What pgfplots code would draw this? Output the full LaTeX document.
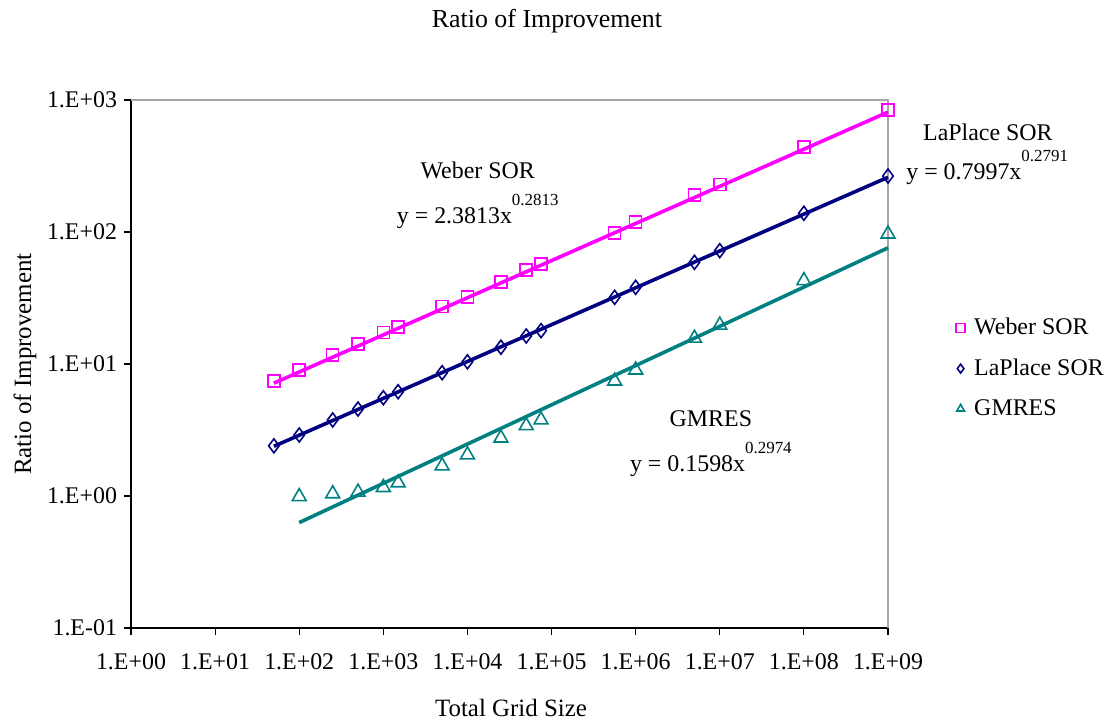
\documentclass[border=0pt]{standalone}
\usepackage{fontspec}
\setmainfont{Liberation Serif}
\usepackage{pgfplots}
\pgfplotsset{compat=1.18}
\definecolor{weber}{RGB}{255,0,255}
\definecolor{laplace}{RGB}{0,0,128}
\definecolor{gmres}{RGB}{0,128,128}

\begin{document}
\begin{tikzpicture}
\useasboundingbox (-65.5bp,-47.5bp) rectangle (490.5bp,314bp);
\begin{axis}[
  scale only axis, width=378.5bp, height=264bp,
  xmode=log, ymode=log,
  xmin=1, xmax=1e9, ymin=0.1, ymax=1000,
  clip=false,
  axis lines=left, axis line style={line width=0.7bp,-},
  xtick={1,10,100,1000,1e4,1e5,1e6,1e7,1e8,1e9},
  xticklabels={1.E+00,1.E+01,1.E+02,1.E+03,1.E+04,1.E+05,1.E+06,1.E+07,1.E+08,1.E+09},
  ytick={0.1,1,10,100,1000},
  yticklabels={1.E-01,1.E+00,1.E+01,1.E+02,1.E+03},
  xminorticks=false, yminorticks=false,
  tick align=outside, major tick length=3.5bp,
  tick style={black, line width=0.6bp},
  tick label style={font=\fontsize{12}{14}\selectfont},
  xticklabel style={yshift=-6bp},
  legend style={draw=none, fill=none, at={(1.080,0.492)}, anchor=west,
    font=\fontsize{12}{14}\selectfont, row sep=6.5bp},
  legend cell align=left,
  legend image code/.code={
    \path[draw=none, fill=none] (0cm,0cm) -- (0.27cm,0cm);
    \draw[#1,mark size=2.2bp] plot[only marks] coordinates {(0.1cm,0cm)};},
]
% plot area border (top and right)
\draw[gray!70, line width=0.8bp] (rel axis cs:0,1) -- (rel axis cs:1,1) -- (rel axis cs:1,0);

% power trendlines
\addplot[weber, line width=1.8bp, forget plot] coordinates {(50,7.16) (1e9,810)};
\addplot[laplace, line width=1.8bp, forget plot] coordinates {(50,2.38) (1e9,259.9)};
\addplot[gmres, line width=1.8bp, forget plot] coordinates {(100,0.629) (1e9,75.9)};

% measured ratios
\addplot[weber, only marks, mark=square, mark size=3bp, mark options={line width=0.8bp}] coordinates {
  (50,7.43) (100,9.01) (250,11.7) (500,14.2) (1000,17.3) (1500,19.0)
  (5000,27.2) (10000,32.2) (25000,41.8) (50000,51.5) (75000,57.2)
  (562500,98.8) (1e6,119.7) (5e6,190.6) (1e7,229.7) (1e8,440) (1e9,840)};
\addlegendentry{Weber SOR}
\addplot[laplace, only marks, mark=diamond, mark size=3.5bp, mark options={line width=0.8bp}] coordinates {
  (50,2.40) (100,2.90) (250,3.77) (500,4.56) (1000,5.55) (1500,6.17)
  (5000,8.59) (10000,10.4) (25000,13.4) (50000,16.3) (75000,17.9)
  (562500,32.0) (1e6,38.1) (5e6,58.9) (1e7,72.2) (1e8,138.6) (1e9,265.6)};
\addlegendentry{LaPlace SOR}
\addplot[gmres, only marks, mark=triangle, mark size=4bp, mark options={line width=0.8bp}] coordinates {
  (100,0.99) (250,1.04) (500,1.07) (1000,1.16) (1500,1.26)
  (5000,1.69) (10000,2.05) (25000,2.75) (50000,3.41) (75000,3.77)
  (562500,7.43) (1e6,9.01) (5e6,15.7) (1e7,19.7) (1e8,42.8) (1e9,96.6)};
\addlegendentry{GMRES}

% labels
\node[anchor=base, font=\fontsize{13}{15}\selectfont] at (rel axis cs:0.5495,1.138) {Ratio of Improvement};
\node[anchor=base, font=\fontsize{12.5}{15}\selectfont] at (rel axis cs:0.502,-0.1667) {Total Grid Size};
\node[rotate=90, anchor=center, font=\fontsize{12.5}{15}\selectfont] at (rel axis cs:-0.140,0.5) {Ratio of Improvement};

% trendline equations
\node[anchor=base, font=\fontsize{12}{14}\selectfont] at (rel axis cs:0.458,0.852) {Weber SOR};
\node[anchor=base, font=\fontsize{12}{14}\selectfont] at (rel axis cs:0.458,0.767) {y = 2.3813x\raisebox{9bp}{\fontsize{8.5}{9}\selectfont 0.2813}};
\node[anchor=base, font=\fontsize{12}{14}\selectfont] at (rel axis cs:1.132,0.924) {LaPlace SOR};
\node[anchor=base, font=\fontsize{12}{14}\selectfont] at (rel axis cs:1.131,0.850) {y = 0.7997x\raisebox{9bp}{\fontsize{8.5}{9}\selectfont 0.2791}};
\node[anchor=base, font=\fontsize{12}{14}\selectfont] at (rel axis cs:0.766,0.381) {GMRES};
\node[anchor=base, font=\fontsize{12}{14}\selectfont] at (rel axis cs:0.766,0.297) {y = 0.1598x\raisebox{9bp}{\fontsize{8.5}{9}\selectfont 0.2974}};
\end{axis}
\end{tikzpicture}
\end{document}
